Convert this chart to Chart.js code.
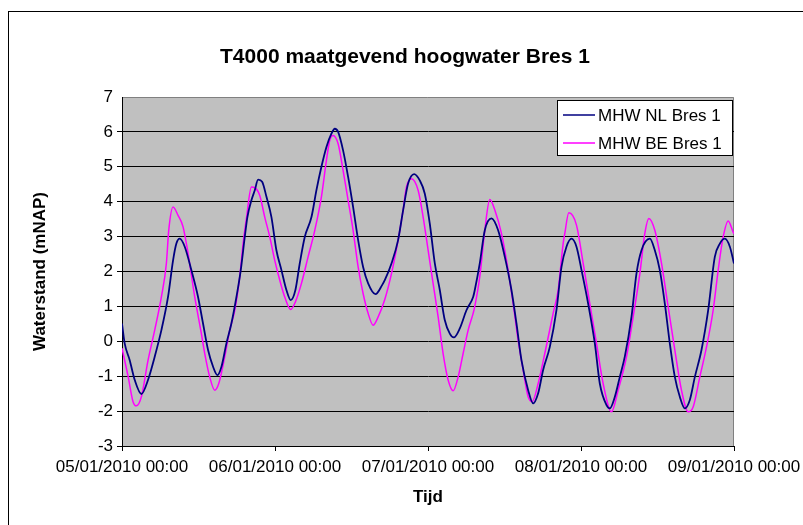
<!DOCTYPE html>
<html>
<head>
<meta charset="utf-8">
<script src="https://cdn.jsdelivr.net/npm/chart.js@4.4.0/dist/chart.umd.min.js"></script>
<style>
  html, body { margin: 0; padding: 0; background: #fff; }
</style>
</head>
<body>
<canvas id="chart" width="803" height="525"></canvas>
<script>
// hours since 05/01/2010 00:00, water level in mNAP
const nlHours = [0, 0.42, 1.21, 2.0, 3.04, 4.09, 5.13, 6.18, 7.22, 8.01, 8.53, 9.05, 9.84, 10.88, 11.93, 12.71,
  13.5, 14.29, 14.97, 15.6, 16.38, 17.16, 17.95, 18.63, 19.26, 19.67, 20.3, 20.83, 21.35, 21.98, 22.66, 23.44,
  24.22, 25.01, 25.79, 26.47, 27.2, 27.88, 28.67, 29.72, 30.5, 31.28, 32.07, 32.85, 33.38, 33.9, 34.68, 35.47,
  36.25, 37.04, 37.82, 38.61, 39.76, 40.8, 41.22, 42.27, 43.31, 44.1, 44.88, 45.82, 46.71, 47.5, 48.28, 49.07,
  49.85, 50.63, 51.42, 52.05, 52.99, 54.03, 55.08, 55.34, 56.12, 56.91, 57.96, 59.0, 60.05, 61.09, 61.88, 62.66,
  63.71, 64.49, 65.28, 66.06, 67.11, 68.15, 68.94, 69.72, 70.51, 71.29, 72.08, 73.12, 74.17, 74.95, 76.0, 76.52,
  77.31, 78.09, 78.87, 79.92, 80.7, 81.49, 82.8, 83.58, 84.36, 85.15, 85.93, 86.72, 87.5, 88.29, 89.07, 89.86,
  90.9, 91.95, 92.99, 93.78, 94.56, 95.35, 96];
const nlLevel = [0.51, -0.06, -0.54, -1.11, -1.51, -1.10, -0.44, 0.32, 1.27, 2.32, 2.80, 2.94, 2.71, 2.04, 1.27, 0.51,
  -0.25, -0.73, -0.97, -0.73, -0.06, 0.51, 1.27, 2.04, 2.99, 3.56, 4.04, 4.33, 4.63, 4.57, 4.14, 3.56,
  2.61, 2.04, 1.47, 1.18, 1.47, 2.23, 2.99, 3.56, 4.33, 5.0, 5.57, 5.95, 6.09, 6.0, 5.47, 4.71,
  3.85, 2.9, 2.13, 1.66, 1.35, 1.61, 1.75, 2.23, 2.9, 3.76, 4.52, 4.79, 4.61, 4.23, 3.37, 2.23,
  1.47, 0.61, 0.22, 0.11, 0.37, 0.89, 1.27, 1.47, 2.23, 3.18, 3.52, 3.18, 2.42, 1.47, 0.51, -0.54,
  -1.40, -1.78, -1.49, -0.82, -0.16, 0.89, 2.13, 2.71, 2.94, 2.71, 2.04, 1.08, -0.06, -1.21, -1.83, -1.92,
  -1.59, -1.02, -0.44, 0.70, 1.94, 2.61, 2.94, 2.61, 2.04, 1.08, -0.06, -1.02, -1.59, -1.92, -1.68, -1.02,
  -0.25, 0.89, 2.42, 2.80, 2.94, 2.71, 2.23];

const beHours = [0, 0.95, 1.73, 2.25, 3.04, 4.09, 5.13, 6.18, 6.96, 7.33, 8.01, 8.79, 9.58, 10.36, 11.41, 12.45,
  12.98, 13.76, 14.55, 15.18, 16.12, 16.9, 17.69, 18.47, 19.0, 19.52, 20.3, 20.83, 21.61, 22.39, 23.18, 23.96,
  24.75, 25.53, 26.47, 27.2, 28.15, 29.19, 30.24, 31.28, 32.07, 32.59, 33.11, 33.9, 34.68, 35.47, 36.25, 37.04,
  37.82, 38.61, 39.39, 40.18, 41.22, 42.27, 43.31, 44.1, 44.62, 45.4, 46.45, 47.24, 48.02, 48.8, 49.59, 50.37,
  51.16, 51.94, 52.73, 53.51, 54.3, 55.08, 55.34, 56.12, 56.91, 57.69, 58.48, 59.52, 60.57, 61.36, 62.14, 62.92,
  63.71, 64.34, 65.28, 66.32, 67.63, 68.42, 69.2, 69.46, 70.09, 71.29, 72.34, 73.38, 74.43, 75.47, 76.78, 77.83,
  79.14, 80.18, 81.23, 82.01, 82.64, 83.58, 84.63, 85.67, 86.72, 87.76, 88.81, 89.59, 90.64, 91.69, 92.73, 93.52,
  94.3, 95.09, 95.87, 96];
const beLevel = [-0.2, -1.0, -1.73, -1.85, -1.59, -0.54, 0.32, 1.27, 2.23, 3.18, 3.85, 3.61, 3.28, 2.52, 1.27, 0.22,
  -0.35, -1.02, -1.40, -1.21, -0.44, 0.32, 0.89, 1.85, 2.80, 3.52, 4.42, 4.40, 4.18, 3.56, 2.99, 2.32,
  1.75, 1.27, 0.91, 1.13, 1.66, 2.42, 3.18, 4.14, 5.19, 5.76, 5.90, 5.66, 4.9, 4.04, 3.18, 2.13,
  1.37, 0.80, 0.46, 0.70, 1.2, 1.94, 2.9, 3.76, 4.42, 4.66, 4.33, 3.56, 2.61, 1.66, 0.70, -0.35,
  -1.11, -1.42, -1.02, -0.35, 0.32, 0.80, 1.0, 1.85, 3.18, 4.06, 3.76, 3.09, 2.04, 1.08, 0.03, -0.82,
  -1.59, -1.73, -1.21, -0.35, 0.80, 1.47, 2.80, 3.09, 3.68, 3.33, 2.23, 1.08, -0.06, -1.21, -2.02, -1.40,
  -0.44, 0.70, 1.94, 3.09, 3.52, 3.18, 2.23, 0.99, -0.25, -1.40, -2.02, -1.88, -1.02, -0.16, 0.89, 2.04,
  2.99, 3.45, 3.13, 3.08];

const seriesNames = ["MHW NL Bres 1", "MHW BE Bres 1"];
const seriesColors = ["#000080", "#FF00FF"];
const dayLabels = ["05/01/2010 00:00", "06/01/2010 00:00", "07/01/2010 00:00", "08/01/2010 00:00", "09/01/2010 00:00"];

const FONT = "'Liberation Sans', Arial, sans-serif";
Chart.defaults.font.family = FONT;
Chart.defaults.color = "#000";

const toPoints = (xs, ys) => xs.map((x, i) => ({ x: x, y: ys[i] }));

// white page, black chart frame, grey plot area
const frame = {
  id: "frame",
  beforeDraw(chart) {
    const c = chart.ctx;
    const a = chart.chartArea;
    c.save();
    c.fillStyle = "#fff";
    c.fillRect(0, 0, chart.width, chart.height);
    c.strokeStyle = "#000";
    c.lineWidth = 1;
    c.strokeRect(8.5, 11.5, chart.width + 10, chart.height + 10);
    c.fillStyle = "#C0C0C0";
    c.fillRect(a.left, a.top, a.right - a.left, a.bottom - a.top);
    c.strokeStyle = "#808080";
    c.beginPath();
    c.moveTo(a.left, a.top + 0.5);
    c.lineTo(a.right - 0.5, a.top + 0.5);
    c.lineTo(a.right - 0.5, a.bottom);
    c.stroke();
    // title
    c.fillStyle = "#000";
    c.font = "bold 21px " + FONT;
    c.textAlign = "center";
    c.textBaseline = "middle";
    c.fillText("T4000 maatgevend hoogwater Bres 1", 405, 57);
    c.restore();
  },
  afterDraw(chart) {
    // legend box inside the plot, top right
    const c = chart.ctx;
    const x = 557, y = 100, w = 175, h = 55;
    c.save();
    c.fillStyle = "#fff";
    c.fillRect(x, y, w, h);
    c.strokeStyle = "#000";
    c.lineWidth = 1;
    c.strokeRect(x + 0.5, y + 0.5, w, h);
    c.font = "17px " + FONT;
    c.textAlign = "left";
    c.textBaseline = "middle";
    chart.data.datasets.forEach((ds, i) => {
      const ly = y + 15 + i * 28;
      c.strokeStyle = ds.borderColor;
      c.lineWidth = 1.5;
      c.beginPath();
      c.moveTo(x + 6, ly);
      c.lineTo(x + 38, ly);
      c.stroke();
      c.fillStyle = "#000";
      c.fillText(ds.label, x + 41, ly + 1);
    });
    c.restore();
  }
};

new Chart(document.getElementById("chart"), {
  type: "line",
  data: {
    datasets: [
      {
        label: seriesNames[0],
        data: toPoints(nlHours, nlLevel),
        borderColor: seriesColors[0],
        borderWidth: 1.8,
        pointRadius: 0,
        cubicInterpolationMode: "monotone",
      },
      {
        label: seriesNames[1],
        data: toPoints(beHours, beLevel),
        borderColor: seriesColors[1],
        borderWidth: 1.5,
        pointRadius: 0,
        cubicInterpolationMode: "monotone",
      },
    ],
  },
  options: {
    responsive: false,
    animation: false,
    layout: { padding: { top: 97, right: 69, bottom: 0, left: 0 } },
    plugins: {
      legend: { display: false },
      title: { display: false },
      tooltip: { enabled: false },
    },
    scales: {
      x: {
        type: "linear",
        min: 0,
        max: 96,
        ticks: {
          stepSize: 24,
          maxRotation: 0,
          padding: 6,
          font: { size: 17 },
          callback: (v) => dayLabels[v / 24],
        },
        grid: { drawOnChartArea: false, tickLength: 5, color: "#000" },
        border: { color: "#000", width: 1 },
        title: {
          display: true,
          text: "Tijd",
          font: { size: 17, weight: "bold" },
          padding: { top: 0, bottom: 17 },
        },
        afterFit: (scale) => {
          scale.height = 79;
          scale.paddingLeft = 0;
          scale.paddingRight = 0;
        },
      },
      y: {
        min: -3,
        max: 7,
        ticks: { stepSize: 1, padding: 4, font: { size: 17 } },
        grid: {
          tickLength: 5,
          color: (ctx) => (ctx.tick && ctx.tick.value === 7 ? "rgba(0,0,0,0)" : "#000"),
        },
        border: { color: "#000", width: 1 },
        title: {
          display: true,
          text: "Waterstand (mNAP)",
          font: { size: 17, weight: "bold" },
          padding: { top: 30, bottom: 0 },
        },
        afterFit: (scale) => { scale.width = 122; },
      },
    },
  },
  plugins: [frame],
});
</script>
</body>
</html>
